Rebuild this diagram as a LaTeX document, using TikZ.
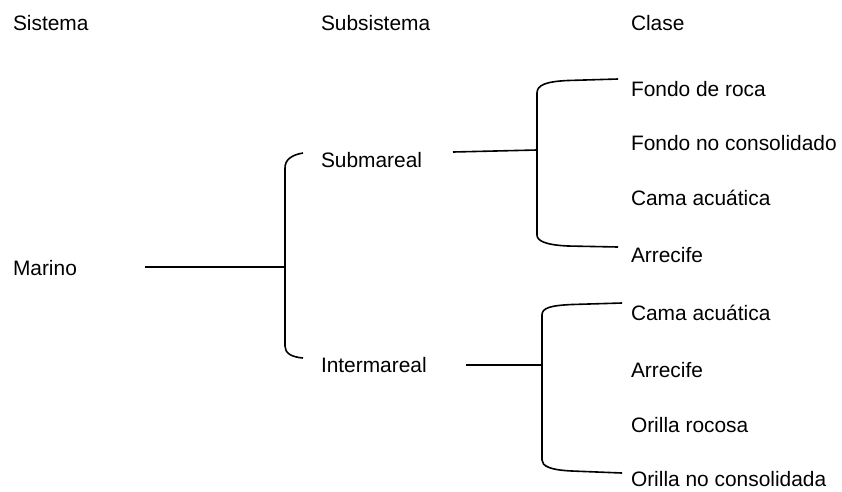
\documentclass[tikz,border=0pt]{standalone}
\usepackage{fontspec}
\setmainfont{Liberation Sans}
\begin{document}
\begin{tikzpicture}[x=1pt,y=-1pt,
  lbl/.style={anchor=base west,inner sep=0pt,outer sep=0pt,font=\fontsize{20.9}{25}\selectfont},
  conn/.style={line width=1.6pt,line join=round}]
\useasboundingbox (0,0) rectangle (842,491);
% headers
\node[lbl] (hsis) at (13,30) {Sistema};
\node[lbl] (hsub) at (321,30) {Subsistema};
\node[lbl] (hcla) at (631,30) {Clase};
% system
\node[lbl] (marino) at (13,275) {Marino};
% subsystems
\node[lbl] (submareal) at (321,167) {Submareal};
\node[lbl] (intermareal) at (321,372) {Intermareal};
% classes
\node[lbl] (c1) at (631,96) {Fondo de roca};
\node[lbl] (c2) at (631,150) {Fondo no consolidado};
\node[lbl] (c3) at (631,205) {Cama acuática};
\node[lbl] (c4) at (631,262) {Arrecife};
\node[lbl] (c5) at (631,320) {Cama acuática};
\node[lbl] (c6) at (631,377) {Arrecife};
\node[lbl] (c7) at (631,432) {Orilla rocosa};
\node[lbl] (c8) at (631,486) {Orilla no consolidada};
% coordinates
\coordinate (m0) at (145,267);
\coordinate (b1) at (285,267);
\coordinate (s0) at (453,152);
\coordinate (b2) at (537,150);
\coordinate (i0) at (466,365);
\coordinate (b3) at (542,365);
% connectors
\draw[conn] (m0) -- (b1);
\draw[conn] (303,153) .. controls (291,155) and (285,160) .. (285,168) -- (285,346)
  .. controls (285,353) and (291,357) .. (303,358);
\draw[conn] (s0) -- (b2);
\draw[conn] (618,79) -- (568,80.5) .. controls (546,81.5) and (537,85) .. (537,93) -- (537,235)
  .. controls (537,241) and (546,245) .. (568,246) -- (618,247);
\draw[conn] (i0) -- (b3);
\draw[conn] (622,303) -- (572,304.5) .. controls (550,305.5) and (542,308) .. (542,315) -- (542,460)
  .. controls (542,466) and (550,470) .. (572,471) -- (622,473);
\end{tikzpicture}
\end{document}
